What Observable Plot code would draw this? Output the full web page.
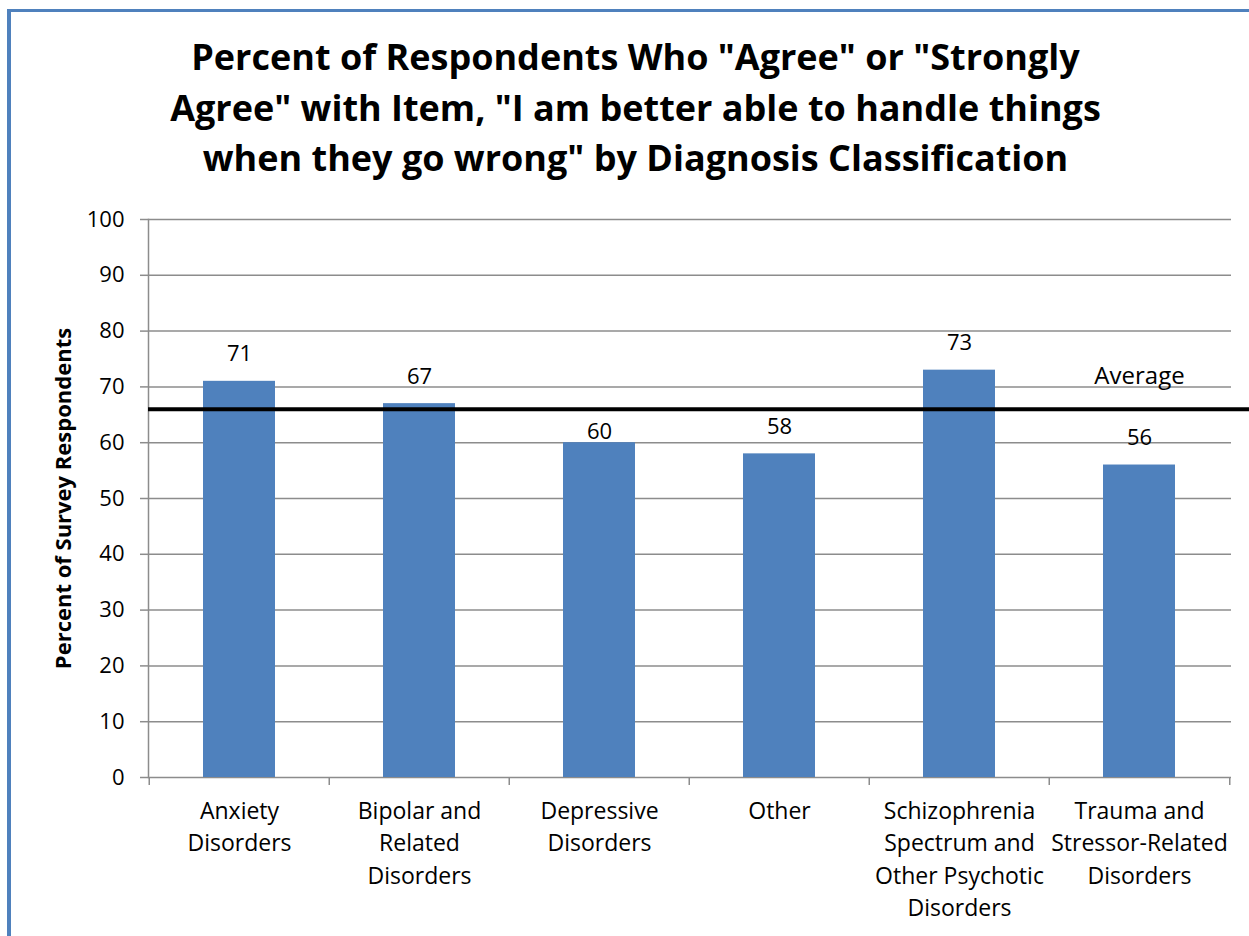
<!DOCTYPE html>
<html>
<head>
<meta charset="utf-8">
<script src="https://cdn.jsdelivr.net/npm/d3@7"></script>
<script src="https://cdn.jsdelivr.net/npm/@observablehq/plot@0.6"></script>
<style>
  body { margin: 0; background: #fff; font-family: "Open Sans", Lato, sans-serif; }
  #wrap { position: relative; width: 1249px; height: 936px; overflow: hidden; background: #fff; }
  #border-top { position: absolute; left: 7px; top: 9px; width: 1242px; height: 3px; background: #4F81BD; }
  #border-left { position: absolute; left: 7px; top: 9px; width: 4px; height: 927px; background: #4F81BD; }
  #title {
    position: absolute; left: 15px; top: 0; width: 1241px; height: 200px;
    text-align: center; font-weight: bold; font-size: 36px; line-height: 50.5px;
    padding-top: 32px; box-sizing: border-box; color: #000;
  }
  #chart { position: absolute; left: 0; top: 200px; }
</style>
</head>
<body>
<div id="wrap">
  <div id="border-top"></div>
  <div id="border-left"></div>
  <div id="title">Percent of Respondents Who "Agree" or "Strongly<br>Agree" with Item, "I am better able to handle things<br>when they go wrong" by Diagnosis Classification</div>
  <div id="chart"></div>
</div>
<script>
// Diagnosis classifications and the share of respondents agreeing
const categories = [
  "Anxiety Disorders",
  "Bipolar and Related Disorders",
  "Depressive Disorders",
  "Other",
  "Schizophrenia Spectrum and Other Psychotic Disorders",
  "Trauma and Stressor-Related Disorders"
];
const categoryLabels = [
  "Anxiety\nDisorders",
  "Bipolar and\nRelated\nDisorders",
  "Depressive\nDisorders",
  "Other",
  "Schizophrenia\nSpectrum and\nOther Psychotic\nDisorders",
  "Trauma and\nStressor-Related\nDisorders"
];
const percentAgree = [71, 67, 60, 58, 73, 56];
const averagePercent = 66;
const averageLabel = "Average";
const yTicks = [0, 10, 20, 30, 40, 50, 60, 70, 80, 90, 100];
const yLabel = "Percent of Survey Respondents";

const rows = categories.map((c, i) => ({category: c, label: categoryLabels[i], value: percentAgree[i]}));

const W = 1249, H = 736;
const mL = 148, mR = 18, mT = 19, mB = 159;
const step = (W - mL - mR) / categories.length;
const grid = "#8c8c8c";
const font = "'Open Sans', Lato, sans-serif";

const chart = Plot.plot({
  width: W,
  height: H,
  marginLeft: mL,
  marginRight: mR,
  marginTop: mT,
  marginBottom: mB,
  style: {fontFamily: font, color: "#000", background: "transparent"},
  x: {domain: categories, paddingInner: 0.6, paddingOuter: 0.3, axis: null},
  y: {type: "linear", domain: [0, 100], axis: null},
  marks: [
    // horizontal gridlines
    Plot.ruleY(yTicks, {stroke: grid, strokeWidth: 1.5}),
    // y axis line with outward ticks and labels
    Plot.frame({anchor: "left", stroke: grid, strokeWidth: 1.5}),
    Plot.axisY({ticks: yTicks, tickSize: 8, tickPadding: 16, fontSize: 22, stroke: grid, strokeWidth: 1.5, label: null}),
    // category boundary ticks hanging below the baseline
    Plot.ruleX(categories, {x: d => d, y1: 0, y2: 0, insetBottom: -8, dx: -step / 2, stroke: grid, strokeWidth: 1.5}),
    Plot.ruleX(categories.slice(-1), {x: d => d, y1: 0, y2: 0, insetBottom: -8, dx: step / 2, stroke: grid, strokeWidth: 1.5}),
    Plot.barY(rows, {x: "category", y: "value", fill: "#4F81BD"}),
    // average reference line, running past the plot edge
    Plot.ruleY([averagePercent], {stroke: "#000", strokeWidth: 4, insetRight: -mR}),
    Plot.text([averageLabel], {x: () => categories[categories.length - 1], y: () => averagePercent, dx: 0, dy: -33, text: d => d, fontSize: 24}),
    // value labels above bars
    Plot.text(rows.filter(d => d.category !== "Depressive Disorders"), {x: "category", y: "value", text: d => String(d.value), dy: -27, fontSize: 22}),
    Plot.text(rows.filter(d => d.category === "Depressive Disorders"), {x: "category", y: "value", text: d => String(d.value), dy: -11, fontSize: 22}),
    // category labels
    Plot.text(rows, {x: "category", frameAnchor: "bottom", text: "label", lineAnchor: "top", dy: 18, lineHeight: 1.413, fontSize: 23}),
    // y axis title
    Plot.text([yLabel], {frameAnchor: "left", textAnchor: "middle", dx: -85, text: d => d, rotate: -90, fontSize: 22, fontWeight: "bold"})
  ]
});

document.getElementById("chart").appendChild(chart);
</script>
</body>
</html>
